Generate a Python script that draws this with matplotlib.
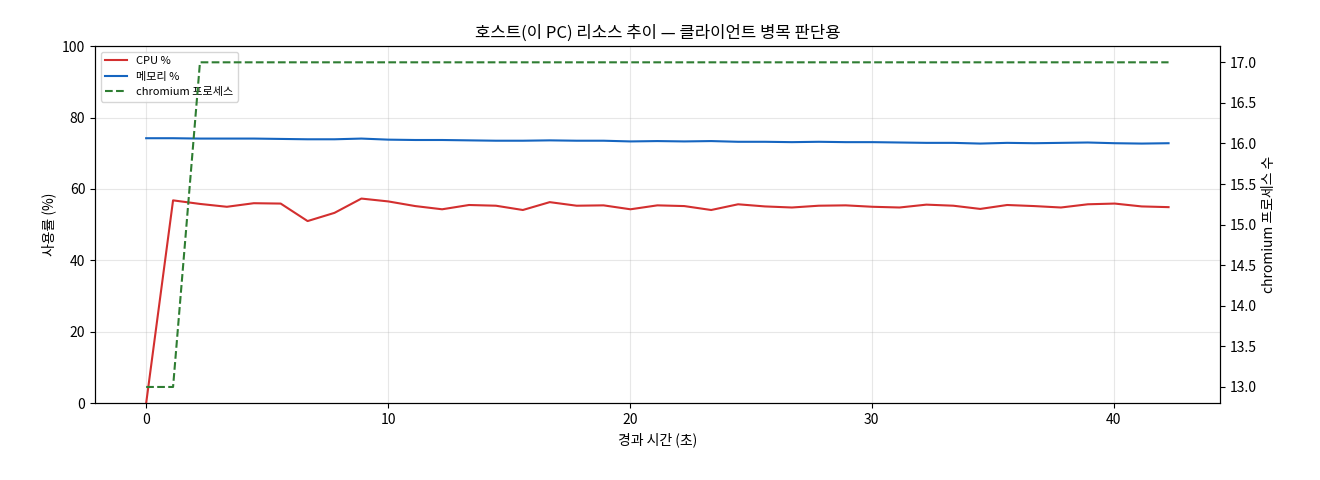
import matplotlib
matplotlib.use("Agg")
import matplotlib.pyplot as plt
import numpy as np

plt.rcParams['font.family'] = ['Noto Sans CJK KR', 'DejaVu Sans']

cpu = [0, 56.8, 55.8, 55.0, 56.0, 55.9, 51.0, 53.3, 57.3, 56.5, 55.2, 54.3, 55.5, 55.3, 54.1,
       56.3, 55.3, 55.4, 54.3, 55.4, 55.2, 54.1, 55.7, 55.1, 54.8, 55.3, 55.4, 55.0, 54.8,
       55.6, 55.3, 54.4, 55.5, 55.2, 54.8, 55.7, 55.9, 55.1, 54.9]
mem = [74.2, 74.2, 74.1, 74.1, 74.1, 74.0, 73.9, 73.9, 74.1, 73.8, 73.7, 73.7, 73.6, 73.5, 73.5,
       73.6, 73.5, 73.5, 73.3, 73.4, 73.3, 73.4, 73.2, 73.2, 73.1, 73.2, 73.1, 73.1, 73.0,
       72.9, 72.9, 72.7, 72.9, 72.8, 72.9, 73.0, 72.8, 72.7, 72.8]
chrom = [13, 13] + [17] * 37
t = [i * 1.1125 for i in range(len(cpu))]

fig, ax = plt.subplots(figsize=(13.2, 4.8), dpi=100)
fig.subplots_adjust(left=0.072, right=0.924, top=0.904, bottom=0.16)
l1, = ax.plot(t, cpu, color='#d32f2f', lw=1.5, label='CPU %')
l2, = ax.plot(t, mem, color='#1565c0', lw=1.5, label='메모리 %')
ax.set_ylim(0, 100)
ax.set_xlabel('경과 시간 (초)')
ax.set_ylabel('사용률 (%)')
ax.grid(True, alpha=0.3)
ax2 = ax.twinx()
l3, = ax2.plot(t, chrom, color='#2e7d32', lw=1.5, ls='--', label='chromium 프로세스')
ax2.set_ylabel('chromium 프로세스 수')
ax.set_title('호스트(이 PC) 리소스 추이 — 클라이언트 병목 판단용')
ax.legend(handles=[l1, l2, l3], loc='upper left', fontsize=8)
fig.savefig('out.png')
